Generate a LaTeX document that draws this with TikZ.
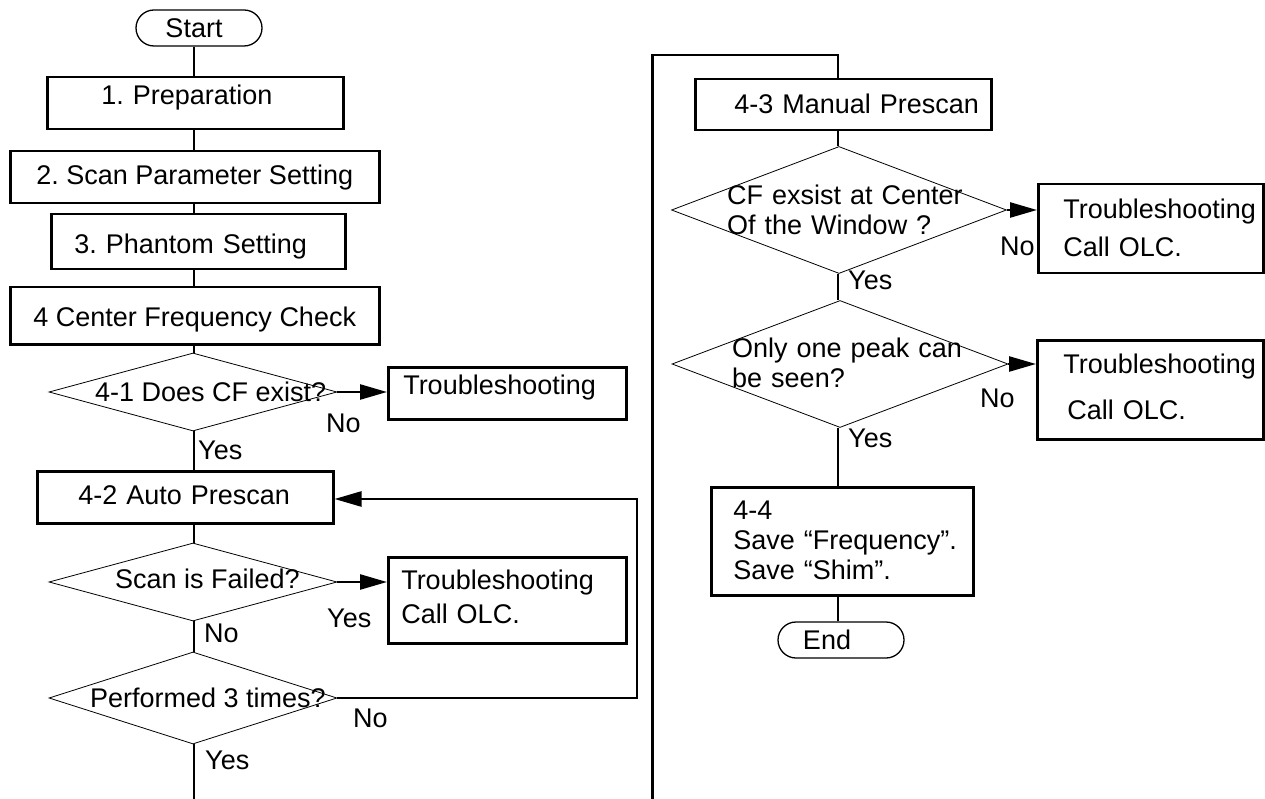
\documentclass[tikz,border=0pt]{standalone}
\usepackage{fontspec}
\setmainfont{Liberation Sans}
\usetikzlibrary{shapes.geometric,shapes.misc,arrows.meta}
\frenchspacing
\tikzset{
  bx/.style={draw, line width=2.5pt, anchor=north west, inner ysep=0pt, align=left},
  dia/.style={draw, diamond, line width=0.8pt, inner sep=0pt},
  term/.style={draw, rounded rectangle, line width=1.3pt, inner sep=0pt},
  lbl/.style={anchor=base west, inner sep=0pt},
  con/.style={line width=2.5pt},
  arr/.style={con, -{Triangle[length=27pt,width=15pt]}},
}
\begin{document}
\begin{tikzpicture}[x=1pt, y=-1pt, font=\fontsize{27}{30}\selectfont\frenchspacing]
\useasboundingbox (0,0) rectangle (1265,799);
\coordinate (cl) at (194,0);
\coordinate (cr) at (838,0);
% ---------- left column ----------
\node[term, minimum width=126pt, minimum height=36pt] (start) at (199,28) {\hspace*{-10pt}Start};
\node[bx, inner xsep=54pt, text width=188pt, text height=27pt, text depth=25pt] (prep) at (46,76) {1. Preparation};
\node[bx, align=center, inner xsep=0pt, minimum width=369pt, text height=33pt, text depth=19pt] (b2) at (9,150) {2. Scan Parameter Setting};
\node[bx, inner xsep=23pt, text width=248pt, text height=39pt, text depth=16pt] (b3) at (50,213) {3. Phantom Setting};
\node[bx, align=center, inner xsep=0pt, minimum width=369pt, text height=39pt, text depth=18pt] (b4) at (9,286) {4 Center Frequency Check};
\node[dia, minimum width=288pt, minimum height=78pt] (d41) at (193,392) {};
\node[lbl] (t41) at (95,401) {4-1 Does CF exist?};
\node[bx, inner xsep=15pt, text width=208pt, text height=27pt, text depth=25pt] (ts1) at (387,366) {Troubleshooting};
\node[bx, inner xsep=41pt, text width=214pt, text height=33pt, text depth=19pt] (ap) at (36,470) {\mbox{4-2 Auto Prescan}};
\node[dia, minimum width=288pt, minimum height=78pt] (dsf) at (193,582) {};
\node[lbl] (tsf) at (115,588) {Scan is Failed?};
\node[bx, inner xsep=13pt, text width=212pt, text height=32pt, text depth=54pt] (ts2) at (387,556) {Troubleshooting\\[4pt]Call OLC.};
\node[dia, minimum width=288pt, minimum height=92pt] (dp3) at (193,698) {};
\node[lbl] (tp3) at (90,707) {Performed 3 times?};
% labels
\node[lbl] (n41) at (326,432) {No};
\node[lbl] (y41) at (198,459) {Yes};
\node[lbl] (ysf) at (327,627) {Yes};
\node[lbl] (nsf) at (204,642) {No};
\node[lbl] (np3) at (353,727) {No};
\node[lbl] (yp3) at (205,769) {Yes};
% connectors left
\draw[con] (start.south -| cl) -- (prep.north -| cl);
\draw[con] (prep.south -| cl) -- (b2.north -| cl);
\draw[con] (b2.south -| cl) -- (b3.north -| cl);
\draw[con] (b3.south -| cl) -- (b4.north -| cl);
\draw[con] (b4.south -| cl) -- (d41.north -| cl);
\draw[con] (d41.south -| cl) -- (ap.north -| cl);
\draw[con] (ap.south -| cl) -- (dsf.north -| cl);
\draw[con] (dsf.south -| cl) -- (dp3.north -| cl);
\coordinate (bl) at (194,799);
\draw[con] (dp3.south -| cl) -- (bl);
\draw[arr] (d41.east) -- (ts1.west |- d41.east);
\draw[arr] (dsf.east) -- (ts2.west |- dsf.east);
\coordinate (lpt) at (637,499);
\draw[arr] (dp3.east) -| (lpt) -- (lpt -| ap.east);
% ---------- right column ----------
\node[bx, inner xsep=39pt, text width=218pt, text height=34pt, text depth=17pt] (man) at (694,78) {\mbox{4-3 Manual Prescan}};
\node[dia, minimum width=335pt, minimum height=127pt] (dcf) at (839,210) {};
\node[lbl, text width=280pt, align=left] (tcf) at (727,205) {CF exsist at Center\\Of the Window ?};
\node[bx, inner xsep=25pt, text width=175pt, text height=34pt, text depth=55pt] (ts3) at (1037,183) {\mbox{Troubleshooting}\\[8pt]\mbox{Call OLC.}};
\node[dia, minimum width=336pt, minimum height=127pt] (dpk) at (840,364) {};
\node[lbl, text width=280pt, align=left] (tpk) at (732,357) {Only one peak can\\be seen?};
\node[bx, inner xsep=26pt, text width=174pt, text height=33pt, text depth=66pt] (ts4) at (1036,339) {\mbox{Troubleshooting}\\[16pt]\mbox{\hspace*{4pt}Call OLC.}};
\node[bx, inner xsep=22pt, text width=218pt, text height=32pt, text depth=76pt] (s44) at (710,486) {4-4\\\mbox{Save “Frequency”.}\\Save “Shim”.};
\node[term, minimum width=126pt, minimum height=36pt] (end) at (841,640) {\hspace*{-28pt}End};
\node[lbl] (ncf) at (1000,256) {No};
\node[lbl] (ycf) at (848,290) {Yes};
\node[lbl] (npk) at (980,407) {No};
\node[lbl] (ypk) at (848,447) {Yes};
% connectors right
\coordinate (rb) at (652.5,799);
\coordinate (rt) at (652.5,55);
\draw[con] (rb) -- (rt) -| (man.north -| cr);
\draw[con] (man.south -| cr) -- (dcf.north -| cr);
\draw[con] (dcf.south -| cr) -- (dpk.north -| cr);
\draw[con] (dpk.south -| cr) -- (s44.north -| cr);
\draw[con] (s44.south -| cr) -- (end.north -| cr);
\draw[arr] (dcf.east) -- (ts3.west |- dcf.east);
\draw[arr] (dpk.east) -- (ts4.west |- dpk.east);
\end{tikzpicture}
\end{document}
